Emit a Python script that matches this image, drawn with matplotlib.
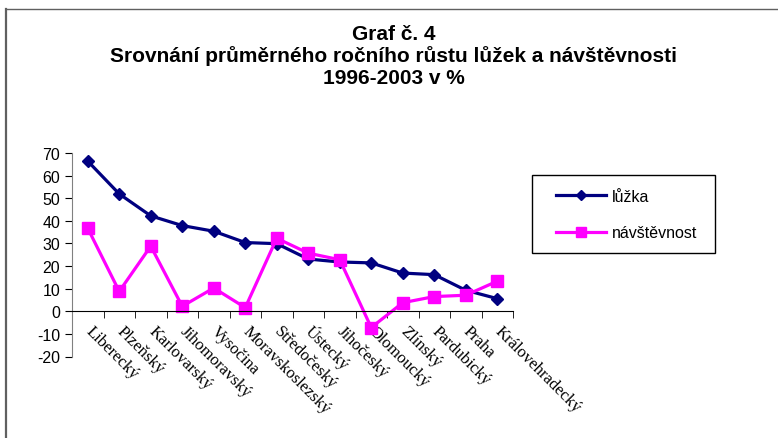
import matplotlib
matplotlib.use("Agg")
import matplotlib.pyplot as plt
from matplotlib.lines import Line2D
from matplotlib.patches import Rectangle
import numpy as np

kraje = ["Liberecký", "Plzeňský", "Karlovarský", "Jihomoravský", "Vysočina",
         "Moravskoslezský", "Středočeský", "Ústecký", "Jihočeský", "Olomoucký",
         "Zlínský", "Pardubický", "Praha", "Královehradecký"]
luzka = [66.4, 51.9, 42.2, 37.9, 35.4, 30.4, 29.9, 23.1, 21.8, 21.4, 16.9, 16.2, 9.3, 5.6]
navstevnost = [36.7, 8.8, 28.8, 2.2, 10.3, 1.6, 32.3, 25.7, 22.8, -7.2, 3.8, 6.5, 7.1, 13.3]
y_ticks = list(range(-20, 71, 10))

plt.rcParams["axes.unicode_minus"] = False

W, H = 778, 439
fig = plt.figure(figsize=(W / 100, H / 100), dpi=100)

def fx(px):
    return px / W

def fy(py):
    return 1 - py / H

# frame around the chart (only left and top are visible)
fig.add_artist(Line2D([fx(5.5), fx(5.5)], [fy(10), fy(439)], color="#606060", lw=1.6))
fig.add_artist(Line2D([fx(5.5), fx(778)], [fy(10), fy(10)], color="#606060", lw=1.0))

ax = fig.add_axes([fx(72), fy(357.5), fx(513) - fx(72), fy(154) - fy(357.5)])

x = np.arange(len(kraje))
ax.plot(x, luzka, color="#000080", lw=2.3, marker="D", markersize=6.5, label="lůžka")
ax.plot(x, navstevnost, color="#FF00FF", lw=2.3, marker="s", markersize=8.5, label="návštěvnost")

ax.set_xlim(-0.5, len(kraje) - 0.5)
ax.set_ylim(-20, 70)
ax.set_yticks(y_ticks)
ax.tick_params(axis="y", direction="out", length=5, labelsize=11.5, colors="black")
for lab in ax.get_yticklabels():
    lab.set_family("Liberation Sans")

ax.spines["top"].set_visible(False)
ax.spines["right"].set_visible(False)
ax.spines["left"].set_color("#808080")
ax.spines["bottom"].set_position(("data", 0))
ax.spines["bottom"].set_color("black")

ax.set_xticks(x)
ax.set_xticks(np.arange(-0.5, len(kraje)), minor=True)
ax.tick_params(axis="x", which="major", length=0, pad=12)
ax.tick_params(axis="x", which="minor", direction="out", length=5)
ax.set_xticklabels(kraje, rotation=-45, rotation_mode="anchor", ha="left", va="center",
                   family="Liberation Serif", fontsize=12)

# title
for txt, py in [("Graf č. 4", 40), ("Srovnání průměrného ročního růstu lůžek a návštěvnosti", 62),
                ("1996-2003 v %", 84)]:
    fig.text(fx(394), fy(py), txt, ha="center", va="baseline", fontsize=15,
             fontweight="bold", family="Liberation Sans")

# legend
fig.add_artist(Rectangle((fx(532), fy(254)), fx(715) - fx(532), fy(175.7) - fy(254),
                         fill=False, edgecolor="black", lw=1.0))
fig.legend(loc="center left", bbox_to_anchor=(fx(542), fy(215.5)), frameon=False,
           prop={"family": "Liberation Sans", "size": 11.5}, handlelength=3.1,
           handletextpad=0.4, labelspacing=1.35, markerscale=0.85)

fig.savefig("out.png", dpi=100)
